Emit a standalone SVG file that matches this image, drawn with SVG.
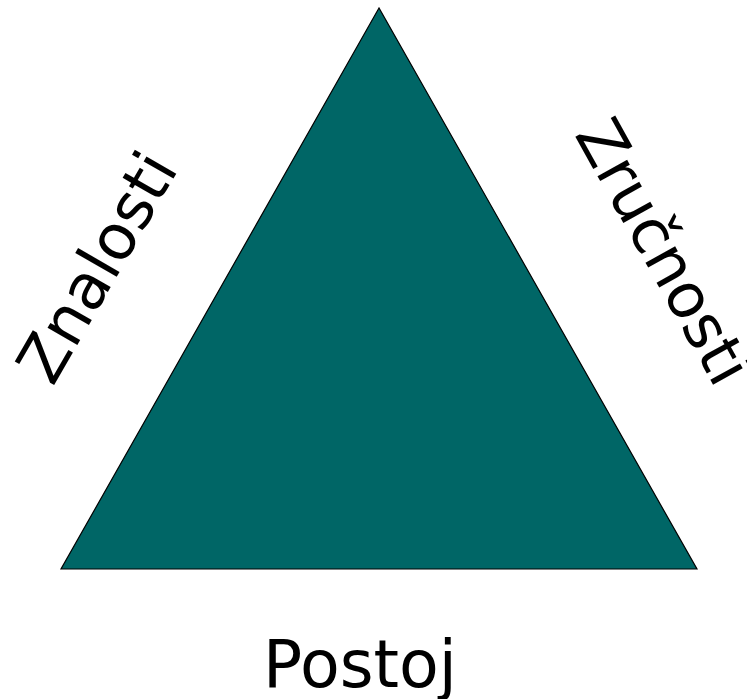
<svg xmlns="http://www.w3.org/2000/svg" width="747" height="699" viewBox="0 0 747 699">
<style>
.lbl{font-family:"DejaVu Sans","Verdana",sans-serif;font-size:63px;fill:#000;text-anchor:middle}
.tri{fill:#006666;stroke:#000;stroke-width:1.2}
</style>
<rect width="747" height="699" fill="#fff"/>
<g id="triangle"><polygon class="tri" points="379,8 61,569 697,569"/></g>
<g id="znalosti"><text class="lbl" transform="translate(116,278) rotate(-60)">Znalosti</text></g>
<g id="zrucnosti"><text class="lbl" transform="translate(645,262) rotate(61)" style="font-size:62px">Zručnosti</text></g>
<g id="postoj"><text class="lbl" x="360" y="687" style="font-size:65px">Postoj</text></g>
<g id="connectors"/>
</svg>
